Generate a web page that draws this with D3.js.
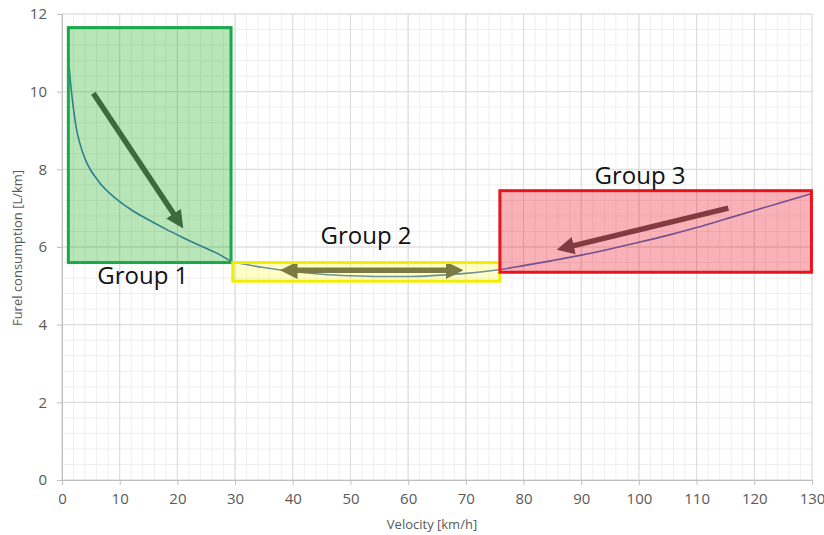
<!DOCTYPE html>
<html><head><meta charset="utf-8">
<script src="https://cdn.jsdelivr.net/npm/d3@7/dist/d3.min.js"></script>
<style>body{margin:0;background:#fff}svg{display:block}</style>
</head><body>
<svg id="c" width="824" height="535"></svg>
<script>
const velocity = [1,1.5,2,2.5,3,4,5,6,7,8,10,12,15,18,21,24,27,29.4,32,35,40,45,50,55,60,65,70,76,80,85,90,95,100,105,110,115,120,125,130];
const fuel =     [11.1,10.2,9.55,9.05,8.72,8.27,7.97,7.76,7.57,7.42,7.17,6.96,6.7,6.46,6.24,6.03,5.83,5.63,5.55,5.47,5.37,5.3,5.26,5.24,5.24,5.27,5.32,5.42,5.52,5.65,5.79,5.95,6.12,6.3,6.5,6.72,6.94,7.16,7.38];
const xTicks = [0,10,20,30,40,50,60,70,80,90,100,110,120,130];
const yTicks = [0,2,4,6,8,10,12];
const groupNames = ["Group 1","Group 2","Group 3"];
// boxes in data units: [x0, x1, yLow, yHigh]
const groupBoxes = [[1.1,29.3,5.6,11.65],[29.6,75.9,5.12,5.6],[75.9,129.9,5.35,7.45]];
const groupFill = ["rgba(0,165,0,0.28)","rgba(255,255,0,0.22)","rgba(235,0,15,0.3)"];
const groupStroke = ["#1aa84a","#f2ee00","#e8141c"];
const groupLabelPos = [[14.0,5.2],[52.7,6.25],[100.2,7.8]];
// arrows: [x1,y1,x2,y2,doubleHeaded]
const arrows = [[5.43,9.96,20.35,6.63,0],[39.0,5.4,68.35,5.4,1],[115.5,7.0,86.93,5.97,0]];

const svg = d3.select("#c");
const x = d3.scaleLinear().domain([0,130]).range([62,812]);
const y = d3.scaleLinear().domain([0,12]).range([480,14]);

// minor grid
const gMinor = svg.append("g");
gMinor.selectAll("line.vx").data(d3.range(0,131,2)).join("line")
  .attr("x1",d=>x(d)).attr("x2",d=>x(d)).attr("y1",y(0)).attr("y2",y(12))
  .attr("stroke","#efefef").attr("stroke-width",1);
gMinor.selectAll("line.hy").data(d3.range(0,12.01,0.4)).join("line")
  .attr("y1",d=>y(d)).attr("y2",d=>y(d)).attr("x1",x(0)).attr("x2",x(130))
  .attr("stroke","#efefef").attr("stroke-width",1);
// major grid
svg.append("g").selectAll("line").data(xTicks).join("line")
  .attr("x1",d=>x(d)).attr("x2",d=>x(d)).attr("y1",y(0)).attr("y2",y(12))
  .attr("stroke","#d9d9d9");
svg.append("g").selectAll("line").data(yTicks).join("line")
  .attr("y1",d=>y(d)).attr("y2",d=>y(d)).attr("x1",x(0)).attr("x2",x(130))
  .attr("stroke","#d9d9d9");

// axes
const xAxis = d3.axisBottom(x).tickValues(xTicks).tickSize(5).tickPadding(8);
const gx = svg.append("g").attr("transform",`translate(0,${y(0)})`).call(xAxis);
const yAxis = d3.axisLeft(y).tickValues(yTicks).tickSize(5).tickPadding(10);
const gy = svg.append("g").attr("transform",`translate(${x(0)},0)`).call(yAxis);
[gx,gy].forEach(g=>{
  g.select(".domain").attr("stroke","#bfbfbf");
  g.selectAll(".tick line").attr("stroke","#bfbfbf");
  g.selectAll(".tick text").attr("fill","#595959").style("font-family","'Open Sans',sans-serif").style("font-size","15px");
});

// curve
svg.append("path").datum(velocity.map((v,i)=>[v,fuel[i]]))
  .attr("d",d3.line().x(d=>x(d[0])).y(d=>y(d[1])).curve(d3.curveMonotoneX))
  .attr("fill","none").attr("stroke","#4472c4").attr("stroke-width",1.6);

// arrows
const defs = svg.append("defs");
defs.append("marker").attr("id","ah").attr("viewBox","0 0 10 10").attr("refX",6).attr("refY",5)
  .attr("markerWidth",3.2).attr("markerHeight",3.2).attr("orient","auto-start-reverse")
  .append("path").attr("d","M0,0L10,5L0,10z").attr("fill","#555");
svg.append("g").selectAll("line").data(arrows).join("line")
  .attr("x1",d=>x(d[0])).attr("y1",d=>y(d[1])).attr("x2",d=>x(d[2])).attr("y2",d=>y(d[3]))
  .attr("stroke","#555").attr("stroke-width",5.5)
  .attr("marker-end","url(#ah)")
  .attr("marker-start",d=>d[4]?"url(#ah)":null);

// group boxes
svg.append("g").selectAll("rect").data(groupBoxes).join("rect")
  .attr("x",d=>x(d[0])).attr("y",d=>y(d[3]))
  .attr("width",d=>x(d[1])-x(d[0])).attr("height",d=>y(d[2])-y(d[3]))
  .attr("fill",(d,i)=>groupFill[i]).attr("stroke",(d,i)=>groupStroke[i]).attr("stroke-width",3);

// group labels
svg.append("g").selectAll("text").data(groupNames).join("text")
  .attr("x",(d,i)=>x(groupLabelPos[i][0])).attr("y",(d,i)=>y(groupLabelPos[i][1]))
  .attr("text-anchor","middle").attr("dominant-baseline","middle")
  .style("font-family","'Open Sans',sans-serif").style("font-size","24px").attr("fill","#111")
  .text(d=>d);

// axis titles
svg.append("text").attr("x",432).attr("y",529).attr("text-anchor","middle")
  .style("font-family","'Open Sans',sans-serif").style("font-size","13px").attr("fill","#595959")
  .text("Velocity [km/h]");
svg.append("text").attr("transform","translate(22,248) rotate(-90)").attr("text-anchor","middle")
  .style("font-family","'Open Sans',sans-serif").style("font-size","13px").attr("fill","#595959")
  .text("Furel consumption [L/km]");
</script>
</body></html>
